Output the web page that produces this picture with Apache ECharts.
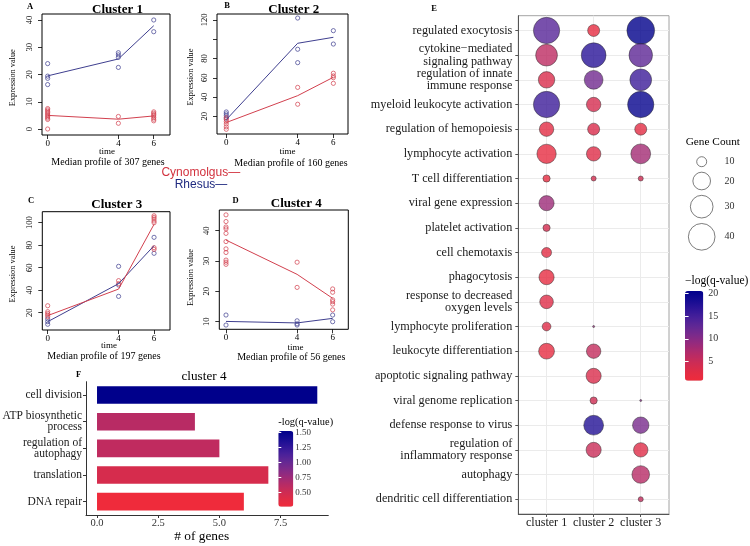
<!DOCTYPE html>
<html><head><meta charset="utf-8">
<script src="https://cdn.jsdelivr.net/npm/echarts@6/dist/echarts.min.js"></script>
<style>html,body{margin:0;padding:0;background:#fff}#c{width:750px;height:546px}</style>
</head><body><div id="c"></div>
<script>
// ================= DATA =================
const timeTicks = [0, 4, 6];

// Panel A - Cluster 1 ([time, value])
const c1CynoPts = [[0,7.5],[0,7],[0,6.5],[0,6],[0,5.5],[0,5],[0,4.5],[0,4],[0,3.5],[0,0],[4,4.6],[4,2.1],[6,6.3],[6,5.8],[6,5.3],[6,4.8],[6,4.2],[6,3.6],[6,3.0]];
const c1RhesusPts = [[0,24],[0,19.4],[0,18.6],[0,16.3],[4,28],[4,27.2],[4,26.3],[4,22.6],[6,40],[6,35.7]];
const c1CynoMedian = [5.0, 3.6, 4.8];
const c1RhesusMedian = [19.5, 25.7, 37.9];
const c1Ticks = [0, 10, 20, 30, 40];

// Panel B - Cluster 2
const c2CynoPts = [[0,18.5],[0,16.5],[0,14.5],[0,12],[0,9],[0,6.5],[4,50],[4,32.5],[6,64.7],[6,61.9],[6,60.1],[6,54.2]];
const c2RhesusPts = [[0,24.5],[0,22.5],[0,20.5],[0,18],[4,122],[4,89.6],[4,75.7],[6,108.9],[6,95]];
const c2CynoMedian = [13.5, 41.4, 60.5];
const c2RhesusMedian = [16.5, 95.8, 102];
const c2Ticks = [20, 40, 60, 80, 100, 120];

// Panel C - Cluster 3
const c3CynoPts = [[0,26.2],[0,20.9],[0,19.4],[0,18],[0,16.4],[4,48.5],[4,45.8],[6,106.2],[6,104.8],[6,103.3],[6,101.5],[6,100],[6,77.8],[6,76.3]];
const c3RhesusPts = [[0,14.4],[0,12],[0,9.7],[4,61.2],[4,44.6],[4,34.5],[6,87],[6,72.8]];
const c3CynoMedian = [17.4, 41, 98.6];
const c3RhesusMedian = [12, 45.8, 79.6];
const c3Ticks = [20, 40, 60, 80, 100];

// Panel D - Cluster 4
const c4CynoPts = [[0,45.2],[0,43],[0,41.2],[0,40.6],[0,39.1],[0,36.4],[0,34],[0,32.8],[0,30.3],[0,29.6],[0,28.9],[4,29.6],[4,21.3],[6,20.8],[6,19.7],[6,17.2],[6,16.6],[6,15.8],[6,13.9]];
const c4RhesusPts = [[0,12.2],[0,8.9],[4,10.3],[4,9.3],[4,8.9],[6,12.2],[6,10]];
const c4CynoMedian = [36.9, 25.6, 17.7];
const c4RhesusMedian = [10.1, 9.6, 11.1];
const c4Ticks = [10, 20, 30, 40];

const clusterTitles = ['Cluster 1', 'Cluster 2', 'Cluster 3', 'Cluster 4'];
const geneTotals = [307, 160, 197, 56];
const panelLetters = ['A', 'B', 'C', 'D'];

// Panel F - cluster 4 GO bars
const fTerms = ['cell division', 'ATP biosynthetic\nprocess', 'regulation of\nautophagy', 'translation', 'DNA repair'];
const fCounts = [9, 4, 5, 7, 6];
const fLogQ = [1.52, 0.62, 0.58, 0.45, 0.26];
const fColorTicks = [0.5, 0.75, 1.0, 1.25, 1.5];
const fXTicks = [0, 2.5, 5, 7.5];

// Panel E - GO bubble chart
const eClusters = ['cluster 1', 'cluster 2', 'cluster 3'];
const eTerms = ['regulated exocytosis', 'cytokine\u2212mediated\nsignaling pathway', 'regulation of innate\nimmune response',
  'myeloid leukocyte activation', 'regulation of hemopoiesis', 'lymphocyte activation', 'T cell differentiation',
  'viral gene expression', 'platelet activation', 'cell chemotaxis', 'phagocytosis', 'response to decreased\noxygen levels',
  'lymphocyte proliferation', 'leukocyte differentiation', 'apoptotic signaling pathway', 'viral genome replication',
  'defense response to virus', 'regulation of\ninflammatory response', 'autophagy', 'dendritic cell differentiation'];
const eCountC1 = [39, 28, 18, 39, 15, 23, 8, 16, 8, 10, 16, 14, 9, 17, null, null, null, null, null, null];
const eCountC2 = [12, 35, 22, 15, 12, 15, 7, null, null, null, null, null, 6, 15, 16, 8, 24, 16, null, null];
const eCountC3 = [43, 32, 28, 39, 12, 24, 7, null, null, null, null, null, null, null, null, 6, 18, 15, 20, 7];
const eLogQC1 = [13.5, 6, 3.5, 15.5, 2.5, 2, 2, 8.5, 4, 2.5, 2, 3, 3, 2, null, null, null, null, null, null];
const eLogQC2 = [2, 17, 11.5, 4, 3.5, 3, 4, null, null, null, null, null, 9, 5.5, 3.5, 4.5, 17.5, 5, null, null];
const eLogQC3 = [20.5, 13, 15.5, 20, 2.5, 8, 4.5, null, null, null, null, null, null, null, null, 10, 11, 3, 6.5, 5.5];
const eColorTicks = [5, 10, 15, 20];
const sizeLegendCounts = [10, 20, 30, 40];

// ================= STYLE / LAYOUT =================
const SERIF = "'Liberation Serif', 'Times New Roman', serif";
const SANS = "'Liberation Sans', Arial, sans-serif";
const RED = '#d2404e', BLUE = '#3f3f8f';
const PALETTE = ['#ef2b3b', '#e02c45', '#cc2c55', '#b52b67', '#9a2a7a', '#7d2a8a', '#622894', '#48209a', '#2e1598', '#140b92', '#00008b'];

function sizeFn(count) { return 2 + 4.26 * Math.sqrt(Math.max(0, count - 6.5)); }

const panelData = [
  {cyno: c1CynoPts, rh: c1RhesusPts, cynoMed: c1CynoMedian, rhMed: c1RhesusMedian, ticks: c1Ticks},
  {cyno: c2CynoPts, rh: c2RhesusPts, cynoMed: c2CynoMedian, rhMed: c2RhesusMedian, ticks: c2Ticks},
  {cyno: c3CynoPts, rh: c3RhesusPts, cynoMed: c3CynoMedian, rhMed: c3RhesusMedian, ticks: c3Ticks},
  {cyno: c4CynoPts, rh: c4RhesusPts, cynoMed: c4CynoMedian, rhMed: c4RhesusMedian, ticks: c4Ticks}
];
const panelLayout = [
  {grid: {left: 42, top: 14, width: 128, height: 121}, x: [-0.32, 6.92], y: [-2.2, 42.2],
   title: [117.5, 9.5], letter: [30, 6.5], time: [107, 151.7], sub: [108, 162.7], ylab: [12.7, 77.7]},
  {grid: {left: 217, top: 14, width: 131, height: 120}, x: [-0.52, 6.82], y: [1.6, 126.2],
   title: [293.7, 9.5], letter: [227, 5.5], time: [287.5, 151.7], sub: [291, 163], ylab: [191, 77]},
  {grid: {left: 42.3, top: 211.7, width: 127.7, height: 118.3}, x: [-0.305, 6.9], y: [4.6, 109.8],
   title: [116.7, 205], letter: [31, 201], time: [109, 345.7], sub: [104, 356.5], ylab: [12.7, 274]},
  {grid: {left: 219.3, top: 210, width: 129, height: 119.3}, x: [-0.377, 6.88], y: [7.5, 46.8],
   title: [296.2, 204], letter: [235.5, 200.5], time: [295.5, 347.7], sub: [291.3, 357.7], ylab: [191, 277.5]}
];

const grids = [], xAxes = [], yAxes = [], series = [], graphics = [], visualMaps = [];
function addX(o) { xAxes.push(o); return xAxes.length - 1; }
function addY(o) { yAxes.push(o); return yAxes.length - 1; }

function txt(x, y, text, o) {
  o = o || {};
  graphics.push({type: 'text', x: x, y: y, rotation: o.rotation || 0, silent: true, z: 50,
    style: {text: text, fontSize: o.size || 10, fontFamily: o.family || SERIF, fontWeight: o.weight || 'normal',
      fill: o.color || '#111', align: o.align || 'center', verticalAlign: 'middle', lineHeight: o.lh}});
}

// ---------- Panels A-D ----------
panelLayout.forEach((L, i) => {
  const D = panelData[i];
  grids.push(Object.assign({show: true, borderColor: '#000', borderWidth: 1, backgroundColor: 'transparent', outerBoundsMode: 'none'}, L.grid));
  const g = grids.length - 1;
  const xi = addX({type: 'value', gridIndex: g, min: L.x[0], max: L.x[1],
    axisLine: {show: false, onZero: false}, splitLine: {show: false},
    axisTick: {show: true, length: 4, customValues: timeTicks, lineStyle: {color: '#000', width: 0.8}},
    axisLabel: {customValues: timeTicks, fontSize: 9, fontFamily: SERIF, color: '#000', margin: 4, hideOverlap: false}});
  const yi = addY({type: 'value', gridIndex: g, min: L.y[0], max: L.y[1],
    axisLine: {show: false, onZero: false}, splitLine: {show: false},
    axisTick: {show: true, length: 4, customValues: D.ticks, lineStyle: {color: '#000', width: 0.8}},
    axisLabel: {customValues: D.ticks, rotate: 90, fontSize: 8.5, fontFamily: SERIF, color: '#000', margin: 8, hideOverlap: false,
      formatter: v => (i === 1 && v === 100) ? '' : String(v)}});
  const ptStyle = c => ({color: 'rgba(0,0,0,0)', borderColor: c, borderWidth: 0.9});
  series.push({type: 'scatter', xAxisIndex: xi, yAxisIndex: yi, symbol: 'circle', symbolSize: 4.2, data: D.rh, itemStyle: ptStyle(BLUE), silent: true, z: 3});
  series.push({type: 'scatter', xAxisIndex: xi, yAxisIndex: yi, symbol: 'circle', symbolSize: 4.2, data: D.cyno, itemStyle: ptStyle(RED), silent: true, z: 3});
  series.push({type: 'line', name: 'Rhesus', xAxisIndex: xi, yAxisIndex: yi, symbol: 'none', data: timeTicks.map((t, k) => [t, D.rhMed[k]]), lineStyle: {color: BLUE, width: 1}, itemStyle: {color: BLUE}, silent: true, z: 4});
  series.push({type: 'line', name: 'Cynomolgus', xAxisIndex: xi, yAxisIndex: yi, symbol: 'none', data: timeTicks.map((t, k) => [t, D.cynoMed[k]]), lineStyle: {color: RED, width: 1}, itemStyle: {color: RED}, silent: true, z: 4});
  txt(L.title[0], L.title[1], clusterTitles[i], {size: 13, weight: 'bold', color: '#000'});
  txt(L.letter[0], L.letter[1], panelLetters[i], {size: 8.5, weight: 'bold', color: '#000'});
  txt(L.time[0], L.time[1], 'time', {size: 9, color: '#000'});
  txt(L.sub[0], L.sub[1], 'Median profile of ' + geneTotals[i] + ' genes', {size: 10, color: '#000'});
  txt(L.ylab[0], L.ylab[1], 'Expression value', {size: 8.3, color: '#000', rotation: Math.PI / 2});
});

// shared legend for A-D
txt(200.8, 173, 'Cynomolgus\u2014', {size: 12, family: SANS, color: '#d2323e'});
txt(201, 185, 'Rhesus\u2014', {size: 12, family: SANS, color: '#1f2a80'});

// ---------- Panel F ----------
grids.push({left: 86, top: 381.7, width: 242.3, height: 133.3, show: false, outerBoundsMode: 'none'});
const gF = grids.length - 1;
const xF = addX({type: 'value', gridIndex: gF, min: -0.45, max: 9.45, splitLine: {show: false},
  axisLine: {show: true, onZero: false, lineStyle: {color: '#333', width: 1}},
  axisTick: {show: true, length: 3, customValues: fXTicks, lineStyle: {color: '#333'}},
  axisLabel: {customValues: fXTicks, formatter: v => v.toFixed(1), fontSize: 10.5, fontFamily: SERIF, color: '#333', margin: 3, hideOverlap: false}});
const yF = addY({type: 'category', gridIndex: gF, inverse: true, data: fTerms, splitLine: {show: false},
  axisLine: {show: true, onZero: false, lineStyle: {color: '#333', width: 1}},
  axisTick: {show: true, length: 3, alignWithLabel: true, lineStyle: {color: '#333'}},
  axisLabel: {fontSize: 11.5, fontFamily: SERIF, color: '#1a1a1a', margin: 4, lineHeight: 10.7, align: 'right', interval: 0}});
series.push({type: 'bar', xAxisIndex: xF, yAxisIndex: yF, barWidth: 17.6, encode: {x: 0, y: 1},
  data: fCounts.map((c, k) => [c, k, fLogQ[k]]), silent: true});
const sF = series.length - 1;
visualMaps.push({type: 'continuous', seriesIndex: sF, dimension: 2, min: 0.26, max: 1.52, calculable: false,
  inRange: {color: PALETTE}, left: 278.3, top: 431, itemWidth: 15, itemHeight: 75.7, padding: 0, orient: 'vertical',
  text: null, showLabel: false});
grids.push({left: 278.3, top: 431, width: 15, height: 75.7, show: false, outerBoundsMode: 'none'});
const gFc = grids.length - 1;
addX({type: 'value', gridIndex: gFc, show: false, min: 0, max: 1});
addY({type: 'value', gridIndex: gFc, position: 'right', min: 0.26, max: 1.52, z: 10,
  axisLine: {show: false}, splitLine: {show: false},
  axisTick: {show: true, inside: true, length: 3, customValues: fColorTicks, lineStyle: {color: '#fff', width: 1}},
  axisLabel: {customValues: fColorTicks, formatter: v => v.toFixed(2), fontSize: 9, fontFamily: SERIF, color: '#333', margin: 2, hideOverlap: false}});
addY({type: 'value', gridIndex: gFc, position: 'left', min: 0.26, max: 1.52, z: 10,
  axisLine: {show: false}, splitLine: {show: false}, axisLabel: {show: false},
  axisTick: {show: true, inside: true, length: 3, customValues: fColorTicks, lineStyle: {color: '#fff', width: 1}}});
txt(204, 376.7, 'cluster 4', {size: 13.2, color: '#000'});
txt(78.5, 375, 'F', {size: 8.5, weight: 'bold', color: '#000'});
txt(201.7, 536.7, '# of genes', {size: 13.4, color: '#000'});
txt(278.3, 422.7, '-log(q-value)', {size: 10.4, color: '#000', align: 'left'});

// ---------- Panel E ----------
grids.push({left: 518.3, top: 15.7, width: 150.7, height: 498.3, show: true, borderColor: '#8c8c8c', borderWidth: 0.8, backgroundColor: 'transparent', outerBoundsMode: 'none'});
const gE = grids.length - 1;
const eXVals = eClusters.map((c, j) => j + 1);
const eYVals = eTerms.map((t, k) => k);
const xE = addX({type: 'value', gridIndex: gE, min: 0.4, max: 3.6,
  axisLine: {show: true, onZero: false, lineStyle: {color: '#555', width: 1}},
  axisTick: {show: true, length: 3, customValues: eXVals, lineStyle: {color: '#555'}},
  splitLine: {show: true, lineStyle: {color: '#ebebeb', width: 1}},
  axisLabel: {customValues: eXVals, formatter: v => eClusters[Math.round(v) - 1], fontSize: 12.1, fontFamily: SERIF, color: '#1a1a1a', margin: 3, hideOverlap: false}});
const yE = addY({type: 'value', gridIndex: gE, inverse: true, min: -0.6, max: 19.6,
  axisLine: {show: true, onZero: false, lineStyle: {color: '#555', width: 1}},
  axisTick: {show: true, length: 3, customValues: eYVals, lineStyle: {color: '#555'}},
  splitLine: {show: true, lineStyle: {color: '#ebebeb', width: 1}},
  axisLabel: {customValues: eYVals, formatter: v => eTerms[Math.round(v)], fontSize: 12.2, fontFamily: SERIF, color: '#1a1a1a', margin: 6, lineHeight: 12.3, align: 'right', hideOverlap: false}});
const eData = [];
[[eCountC1, eLogQC1], [eCountC2, eLogQC2], [eCountC3, eLogQC3]].forEach((pair, j) => {
  pair[0].forEach((c, k) => { if (c != null) eData.push([j + 1, k, c, pair[1][k]]); });
});
series.push({type: 'scatter', xAxisIndex: xE, yAxisIndex: yE, data: eData, symbol: 'circle',
  symbolSize: v => sizeFn(v[2]), itemStyle: {borderColor: '#2a2a2a', borderWidth: 0.6}, silent: true, z: 3});
const sE = series.length - 1;
visualMaps.push({type: 'continuous', seriesIndex: sE, dimension: 3, min: 0.8, max: 20.5, calculable: false,
  inRange: {color: PALETTE}, left: 685, top: 291, itemWidth: 18.3, itemHeight: 89.7, padding: 0, orient: 'vertical',
  text: null, showLabel: false});
grids.push({left: 685, top: 291, width: 18.3, height: 89.7, show: false, outerBoundsMode: 'none'});
const gEc = grids.length - 1;
addX({type: 'value', gridIndex: gEc, show: false, min: 0, max: 1});
addY({type: 'value', gridIndex: gEc, position: 'right', min: 0.8, max: 20.5, z: 10,
  axisLine: {show: false}, splitLine: {show: false},
  axisTick: {show: true, inside: true, length: 3.6, customValues: eColorTicks, lineStyle: {color: '#fff', width: 1}},
  axisLabel: {customValues: eColorTicks, fontSize: 10, fontFamily: SERIF, color: '#333', margin: 5, hideOverlap: false}});
addY({type: 'value', gridIndex: gEc, position: 'left', min: 0.8, max: 20.5, z: 10,
  axisLine: {show: false}, splitLine: {show: false}, axisLabel: {show: false},
  axisTick: {show: true, inside: true, length: 3.6, customValues: eColorTicks, lineStyle: {color: '#fff', width: 1}}});
txt(685, 280.7, '\u2212log(q-value)', {size: 11.5, color: '#000', align: 'left'});
txt(434, 8.5, 'E', {size: 8.5, weight: 'bold', color: '#000'});

// size legend (Gene Count)
const legD = sizeLegendCounts.map(sizeFn);
const legPos = [];
legD.forEach((d, k) => { legPos.push(k === 0 ? 11.7 : legPos[k - 1] + (legD[k - 1] + d) / 2 + 5.5); });
grids.push({left: 690, top: 150, width: 23.4, height: 100, show: false, outerBoundsMode: 'none'});
const gL = grids.length - 1;
const xL = addX({type: 'value', gridIndex: gL, show: false, min: 0, max: 1});
const yL = addY({type: 'value', gridIndex: gL, position: 'right', inverse: true, min: 0, max: 100,
  axisLine: {show: false}, splitLine: {show: false}, axisTick: {show: false},
  axisLabel: {customValues: legPos, formatter: v => { const k = legPos.findIndex(p => Math.abs(p - v) < 0.01); return k >= 0 ? String(sizeLegendCounts[k]) : ''; },
    fontSize: 10, fontFamily: SERIF, color: '#333', margin: 11, hideOverlap: false}});
series.push({type: 'scatter', xAxisIndex: xL, yAxisIndex: yL, symbol: 'circle',
  data: sizeLegendCounts.map((c, k) => [0.5, legPos[k], c]), symbolSize: v => sizeFn(v[2]),
  itemStyle: {color: 'rgba(0,0,0,0)', borderColor: '#333', borderWidth: 0.8}, silent: true});
txt(685.7, 141.7, 'Gene Count', {size: 11.3, color: '#000', align: 'left'});

// ================= RENDER =================
const chart = echarts.init(document.getElementById('c'), null, {renderer: 'canvas', width: 750, height: 546});
chart.setOption({
  animation: false,
  backgroundColor: '#fff',
  textStyle: {fontFamily: SERIF},
  grid: grids, xAxis: xAxes, yAxis: yAxes, series: series, visualMap: visualMaps, graphic: graphics
});
</script></body></html>
